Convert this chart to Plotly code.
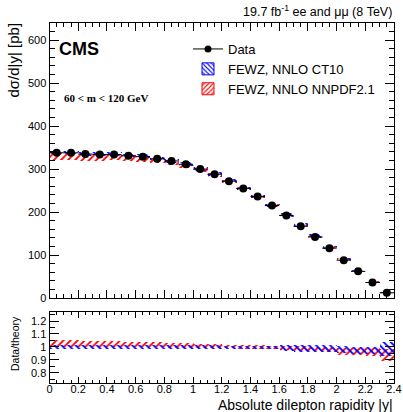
import plotly.graph_objects as go

# ---- data ----
bin_lo = [round(0.1 * i, 2) for i in range(24)]
bin_centers = [round(0.1 * i + 0.05, 2) for i in range(24)]
data_vals = [338, 338, 335, 334, 334, 331, 329, 324, 319, 311, 300, 288,
             272, 255, 236, 215, 192, 167, 142, 116, 88, 62, 36, 12]
# data/theory ratio bands
ct10_ratio_lo = [0.985] * 12 + [0.985, 0.985, 0.985, 0.983] + [0.965, 0.962, 0.96, 0.958] + [0.95, 0.947, 0.945] + [0.93]
ct10_ratio_hi = [1.012] * 12 + [1.01, 1.01, 1.01, 1.01] + [1.015, 1.015, 1.018, 1.015] + [1.003, 1.0, 1.0] + [1.04]
nnpdf_ratio_lo = [1.0, 1.0, 1.0, 1.0, 0.998, 0.998, 0.998, 0.997, 0.995, 0.995, 0.993, 0.992,
                  0.988, 0.987, 0.985, 0.983, 0.975, 0.97, 0.965, 0.962, 0.94, 0.935, 0.93, 0.89]
nnpdf_ratio_hi = [1.05, 1.05, 1.048, 1.046, 1.042, 1.04, 1.038, 1.035, 1.032, 1.03, 1.026, 1.022,
                  1.015, 1.013, 1.012, 1.01, 1.005, 1.003, 1.002, 1.0, 0.99, 0.99, 0.988, 0.985]

bin_width = 0.1
# theory bands in main plot derived from data/ratio
ct10_lo = [d / h for d, h in zip(data_vals, ct10_ratio_hi)]
ct10_hi = [d / l for d, l in zip(data_vals, ct10_ratio_lo)]
nn_lo = [d / h for d, h in zip(data_vals, nnpdf_ratio_hi)]
nn_hi = [d / l for d, l in zip(data_vals, nnpdf_ratio_lo)]

BLUE = "#0000ff"
RED = "#ff0000"
FONT = "Liberation Sans, Arial, sans-serif"


def band(lo, hi, color, shape, xa, ya):
    return go.Bar(
        x=bin_centers, y=[h - l for l, h in zip(lo, hi)], base=lo,
        width=bin_width, xaxis=xa, yaxis=ya, showlegend=False, hoverinfo="skip",
        marker=dict(color="rgba(0,0,0,0)", line=dict(width=0),
                    pattern=dict(shape=shape, fgcolor=color, bgcolor="rgba(0,0,0,0)",
                                 size=5, solidity=0.35, fillmode="replace")),
    )


fig = go.Figure()
# main plot bands
fig.add_trace(band(nn_lo, nn_hi, RED, "/", "x", "y"))
fig.add_trace(band(ct10_lo, ct10_hi, BLUE, "\\", "x", "y"))
# ratio bands
fig.add_trace(band(nnpdf_ratio_lo, nnpdf_ratio_hi, RED, "/", "x2", "y2"))
fig.add_trace(band(ct10_ratio_lo, ct10_ratio_hi, BLUE, "\\", "x2", "y2"))

# data points
fig.add_trace(go.Scatter(
    x=bin_centers, y=data_vals, mode="markers", name="Data", showlegend=False,
    marker=dict(color="black", size=8),
    error_x=dict(type="constant", value=0.05, color="black", thickness=1, width=0),
    xaxis="x", yaxis="y",
))

# legend entries
fig.add_trace(go.Scatter(x=[None], y=[None], mode="lines+markers", name="Data",
                         line=dict(color="black", width=1), marker=dict(color="black", size=7)))
for nm, col, shp in [("FEWZ, NNLO CT10", BLUE, "\\"), ("FEWZ, NNLO NNPDF2.1", RED, "/")]:
    fig.add_trace(go.Bar(x=[None], y=[None], name=nm,
                         marker=dict(color="rgba(0,0,0,0)", line=dict(width=1, color=col),
                                     pattern=dict(shape=shp, fgcolor=col, bgcolor="rgba(0,0,0,0)",
                                                  size=4, solidity=0.35, fillmode="replace"))))

axis_common = dict(showline=True, linecolor="black", linewidth=1, mirror="allticks",
                   ticks="inside", tickcolor="black", showgrid=False, zeroline=False,
                   automargin=False,
                   tickfont=dict(family=FONT, size=11, color="black"))

x0, x1 = 49.5 / 403, 394 / 403
fig.update_layout(
    width=403, height=412, margin=dict(l=0, r=0, t=0, b=0, autoexpand=False),
    paper_bgcolor="white", plot_bgcolor="white", barmode="overlay", bargap=0,
    font=dict(family=FONT, color="black"),
    xaxis=dict(domain=[x0, x1], range=[0, 2.4], dtick=0.2, ticklen=8, showticklabels=False,
               minor=dict(dtick=0.05, ticklen=4, ticks="inside", tickcolor="black"),
               anchor="y", **axis_common),
    yaxis=dict(domain=[(412 - 298) / 412, (412 - 23) / 412], range=[0, 640], dtick=100, ticklen=9,
               minor=dict(dtick=20, ticklen=5, ticks="inside", tickcolor="black"),
               anchor="x", **axis_common),
    xaxis2=dict(domain=[x0, x1], range=[0, 2.4], dtick=0.2, ticklen=6, ticklabelstandoff=-4,
                minor=dict(dtick=0.05, ticklen=3, ticks="inside", tickcolor="black"),
                anchor="y2", **axis_common),
    yaxis2=dict(domain=[(412 - 383) / 412, (412 - 312) / 412], range=[0.72, 1.27],
                tickvals=[0.8, 0.9, 1.0, 1.1, 1.2], ticktext=["0.8", "0.9", "1", "1.1", "1.2"],
                ticklen=9, minor=dict(dtick=0.05, ticklen=5, ticks="inside", tickcolor="black"),
                anchor="x2", **axis_common),
    legend=dict(x=188 / 403, y=(412 - 34) / 412, xanchor="left", yanchor="top",
                bgcolor="rgba(0,0,0,0)", font=dict(family=FONT, size=13, color="black"),
                tracegroupgap=0, itemwidth=30),
)

ann = [
    dict(text="19.7 fb<sup>-1</sup> ee and μμ (8 TeV)", x=394 / 403, y=(412 - 11) / 412,
         xanchor="right", yanchor="middle", font=dict(size=12.5)),
    dict(text="<b>CMS</b>", x=57 / 403, y=(412 - 49) / 412, xanchor="left", yanchor="middle",
         font=dict(size=18)),
    dict(text="<b>60 &lt; m &lt; 120 GeV</b>", x=62 / 403, y=(412 - 98) / 412,
         xanchor="left", yanchor="middle",
         font=dict(family="Liberation Serif, Times New Roman, serif", size=11)),
    dict(text="dσ/d|y| [pb]", x=13 / 403, y=(412 - 21) / 412, xanchor="center", yanchor="top",
         textangle=-90, font=dict(size=15)),
    dict(text="Data/theory", x=15 / 403, y=(412 - 343) / 412, xanchor="center", yanchor="middle",
         textangle=-90, font=dict(size=10.5)),
    dict(text="Absolute dilepton rapidity |y|", x=395 / 403, y=(412 - 405) / 412,
         xanchor="right", yanchor="middle", font=dict(size=14)),
]
for a in ann:
    a.update(xref="paper", yref="paper", showarrow=False)
    a.setdefault("font", {})
    a["font"].setdefault("family", FONT)
    a["font"]["color"] = "black"
fig.update_layout(annotations=ann)

fig.write_html("out.html", config={"displayModeBar": False},
               post_script="document.body.style.margin='0';document.body.style.overflow='hidden';")
